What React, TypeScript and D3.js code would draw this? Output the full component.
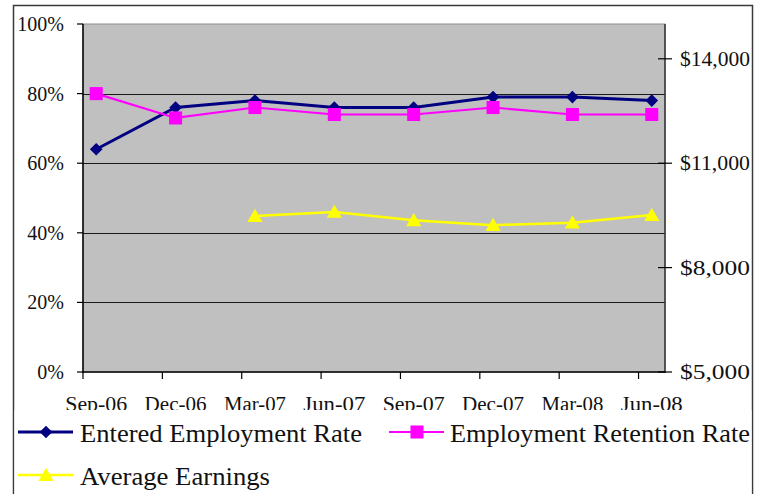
import React, { useEffect, useRef } from "react";
import * as d3 from "d3";

// quarterly series, Sep-06 .. Jun-08
const categories = ["Sep-06", "Dec-06", "Mar-07", "Jun-07", "Sep-07", "Dec-07", "Mar-08", "Jun-08"];
const enteredEmployment = [64, 76, 78, 76, 76, 79, 79, 78];
const retentionRate = [80, 73, 76, 74, 74, 76, 74, 74];
const averageEarnings: (number | null)[] = [null, null, 9480, 9600, 9360, 9220, 9290, 9510];

const leftTicks = [0, 20, 40, 60, 80, 100];
const rightTicks = [5000, 8000, 11000, 14000];

const W = 760;
const H = 494;
const FONT = "'Liberation Serif', 'Times New Roman', serif";

const App = () => {
  const ref = useRef<SVGSVGElement | null>(null);

  useEffect(() => {
    drawChart();
  }, []);

  const drawChart = () => {
    const svg = d3.select(ref.current);
    svg.selectAll("*").remove();

    const m = { left: 83, right: 665, top: 24, bottom: 372 };

    // date axis in Excel: one band per month, data sits mid-month
    const months = d3.timeMonth.range(new Date(2006, 8, 1), new Date(2008, 6, 1));
    const fmt = d3.timeFormat("%b-%y");
    const monthKeys = months.map((d) => fmt(d));
    const x = d3.scaleBand().domain(monthKeys).range([m.left, m.right]);
    const cx = (c: string) => (x(c) as number) + x.bandwidth() / 2;

    const y = d3.scaleLinear().domain([0, 100]).range([m.bottom, m.top]);
    const y2 = d3.scaleLinear().domain([5000, 15000]).range([m.bottom, m.top]);

    // outer chart frame
    svg
      .append("rect")
      .attr("x", 13.5)
      .attr("y", 5.5)
      .attr("width", 739)
      .attr("height", 520)
      .attr("fill", "#fff")
      .attr("stroke", "#3a3a3a")
      .attr("stroke-width", 1.5);

    // plot area
    svg
      .append("rect")
      .attr("x", m.left)
      .attr("y", m.top)
      .attr("width", m.right - m.left)
      .attr("height", m.bottom - m.top)
      .attr("fill", "#c0c0c0")
      .attr("stroke", "#8c8c8c")
      .attr("stroke-width", 1);

    // gridlines
    svg
      .selectAll(".grid")
      .data(leftTicks.filter((t) => t > 0 && t < 100))
      .enter()
      .append("line")
      .attr("x1", m.left)
      .attr("x2", m.right)
      .attr("y1", (d) => Math.round(y(d)) + 0.5)
      .attr("y2", (d) => Math.round(y(d)) + 0.5)
      .attr("stroke", "#1a1a1a")
      .attr("stroke-width", 1);

    // left axis
    svg
      .append("line")
      .attr("x1", m.left)
      .attr("x2", m.left)
      .attr("y1", m.top)
      .attr("y2", m.bottom + 1)
      .attr("stroke", "#000")
      .attr("stroke-width", 1.5);
    svg
      .selectAll(".ltick")
      .data(leftTicks)
      .enter()
      .append("line")
      .attr("x1", m.left - 6)
      .attr("x2", m.left)
      .attr("y1", (d) => y(d))
      .attr("y2", (d) => y(d))
      .attr("stroke", "#000")
      .attr("stroke-width", 1.2);
    svg
      .selectAll(".llabel")
      .data(leftTicks)
      .enter()
      .append("text")
      .attr("x", 64)
      .attr("y", (d) => y(d) + 7)
      .attr("text-anchor", "end")
      .style("font", `20px ${FONT}`)
      .attr("fill", "#111")
      .text((d) => d + "%");

    // right axis
    svg
      .append("line")
      .attr("x1", m.right)
      .attr("x2", m.right)
      .attr("y1", m.top)
      .attr("y2", m.bottom + 1)
      .attr("stroke", "#333")
      .attr("stroke-width", 1.5);
    svg
      .selectAll(".rtick")
      .data(rightTicks)
      .enter()
      .append("line")
      .attr("x1", m.right - 7)
      .attr("x2", m.right + 7)
      .attr("y1", (d) => y2(d))
      .attr("y2", (d) => y2(d))
      .attr("stroke", "#000")
      .attr("stroke-width", 1.2);
    svg
      .selectAll(".rlabel")
      .data(rightTicks)
      .enter()
      .append("text")
      .attr("x", 680)
      .attr("y", (d) => y2(d) + 7)
      .attr("text-anchor", "start")
      .attr("textLength", 70)
      .attr("lengthAdjust", "spacingAndGlyphs")
      .style("font", `20px ${FONT}`)
      .attr("fill", "#111")
      .text((d) => "$" + d3.format(",")(d));

    // bottom axis
    svg
      .append("line")
      .attr("x1", m.left)
      .attr("x2", m.right)
      .attr("y1", m.bottom)
      .attr("y2", m.bottom)
      .attr("stroke", "#000")
      .attr("stroke-width", 1.5);
    svg
      .selectAll(".btick")
      .data(monthKeys.filter((k, i) => i % 3 === 0))
      .enter()
      .append("line")
      .attr("x1", (d) => x(d) as number)
      .attr("x2", (d) => x(d) as number)
      .attr("y1", m.bottom)
      .attr("y2", m.bottom + 7)
      .attr("stroke", "#000")
      .attr("stroke-width", 1.2);
    svg
      .selectAll(".blabel")
      .data(categories)
      .enter()
      .append("text")
      .attr("x", (d) => cx(d))
      .attr("y", 411)
      .attr("text-anchor", "middle")
      .attr("textLength", 62)
      .attr("lengthAdjust", "spacingAndGlyphs")
      .style("font", `20px ${FONT}`)
      .attr("fill", "#111")
      .text((d) => d);

    // legend box covers the bottom of the axis labels
    svg
      .append("rect")
      .attr("x", 14.5)
      .attr("y", 410)
      .attr("width", 737)
      .attr("height", 90)
      .attr("fill", "#fff");

    const diamond = d3.symbol().type(d3.symbolSquare).size(80)();
    const square = d3.symbol().type(d3.symbolSquare).size(170)();
    const triangle = d3.symbol().type(d3.symbolTriangle).size(100)();

    const series = [
      { name: "Entered Employment Rate", values: enteredEmployment, scale: y, color: "#000080", width: 3, marker: diamond, rot: 45, dy: 0 },
      { name: "Employment Retention Rate", values: retentionRate, scale: y, color: "#ff00ff", width: 2.2, marker: square, rot: 0, dy: 0 },
      { name: "Average Earnings", values: averageEarnings, scale: y2, color: "#ffff00", width: 2.5, marker: triangle, rot: 0, dy: 1.5 },
    ];

    series.forEach((s) => {
      const pts = categories.map((c, i) => ({ c, v: s.values[i] }));
      const line = d3
        .line<{ c: string; v: number | null }>()
        .defined((d) => d.v != null)
        .x((d) => cx(d.c))
        .y((d) => s.scale(d.v as number));
      svg
        .append("path")
        .datum(pts)
        .attr("d", line)
        .attr("fill", "none")
        .attr("stroke", s.color)
        .attr("stroke-width", s.width);
      svg
        .selectAll(null)
        .data(pts.filter((d) => d.v != null))
        .enter()
        .append("path")
        .attr("d", s.marker)
        .attr("fill", s.color)
        .attr(
          "transform",
          (d) => `translate(${cx(d.c)},${s.scale(d.v as number) + s.dy}) rotate(${s.rot})`
        );
    });

    // legend entries
    const legend = [
      { s: series[0], x0: 18, y0: 432, tx: 80, tl: 282 },
      { s: series[1], x0: 389, y0: 432, tx: 450, tl: 300 },
      { s: series[2], x0: 18, y0: 475, tx: 80, tl: 190 },
    ];
    legend.forEach((l) => {
      svg
        .append("line")
        .attr("x1", l.x0)
        .attr("x2", l.x0 + 55)
        .attr("y1", l.y0)
        .attr("y2", l.y0)
        .attr("stroke", l.s.color)
        .attr("stroke-width", l.s.width);
      svg
        .append("path")
        .attr("d", l.s.marker)
        .attr("fill", l.s.color)
        .attr("transform", `translate(${l.x0 + 28},${l.y0 + l.s.dy}) rotate(${l.s.rot})`);
      svg
        .append("text")
        .attr("x", l.tx)
        .attr("y", l.y0 + 10)
        .attr("textLength", l.tl)
        .attr("lengthAdjust", "spacingAndGlyphs")
        .style("font", `25px ${FONT}`)
        .attr("fill", "#111")
        .text(l.s.name);
    });
  };

  return (
    <svg
      ref={ref}
      width={W}
      height={H}
      style={{ position: "absolute", left: 0, top: 0, background: "#fff" }}
    />
  );
};

export default App;
